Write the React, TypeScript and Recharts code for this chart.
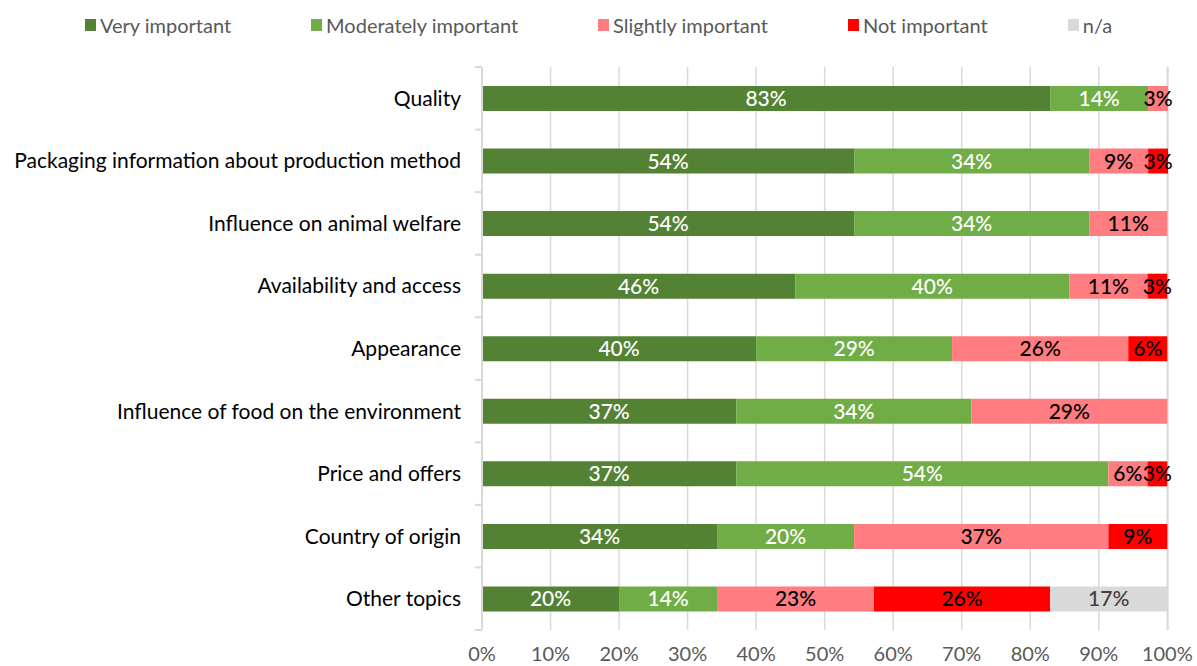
import React from 'react';
import { BarChart, Bar, XAxis, YAxis, CartesianGrid, LabelList, Legend } from 'recharts';

const categories = [
  'Quality',
  'Packaging information about production method',
  'Influence on animal welfare',
  'Availability and access',
  'Appearance',
  'Influence of food on the environment',
  'Price and offers',
  'Country of origin',
  'Other topics',
];

const veryImportant = [82.9, 54.3, 54.3, 45.7, 40.0, 37.1, 37.1, 34.3, 20.0];
const moderatelyImportant = [14.3, 34.3, 34.3, 40.0, 28.6, 34.3, 54.3, 20.0, 14.3];
const slightlyImportant = [2.9, 8.6, 11.4, 11.4, 25.7, 28.6, 5.7, 37.1, 22.9];
const notImportant = [0, 2.9, 0, 2.9, 5.7, 0, 2.9, 8.6, 25.7];
const notApplicable = [0, 0, 0, 0, 0, 0, 0, 0, 17.1];

const seriesNames = ['Very important', 'Moderately important', 'Slightly important', 'Not important', 'n/a'];
const seriesKeys = ['very', 'moderate', 'slight', 'not', 'na'];
const seriesValues = [veryImportant, moderatelyImportant, slightlyImportant, notImportant, notApplicable];
const seriesColors = ['#548235', '#70AD47', '#FF7C80', '#FF0000', '#D9D9D9'];
const labelColors = ['#FFFFFF', '#FFFFFF', '#000000', '#000000', '#404040'];

const xTicks = [0, 10, 20, 30, 40, 50, 60, 70, 80, 90, 100];

const data = categories.map((c, i) => {
  const row: Record<string, string | number> = { category: c };
  seriesKeys.forEach((k, s) => {
    row[k] = seriesValues[s][i];
  });
  return row;
});

const FONT = 'Lato, "Open Sans", sans-serif';

function CategoryTick(props: any) {
  const { x, y, payload, index } = props;
  const half = payload && typeof payload.offset === 'number' && payload.offset > 0 ? payload.offset : 31.28;
  return (
    <g>
      <text
        x={x - 21}
        y={y - 1}
        textAnchor="end"
        dominantBaseline="central"
        fontSize={21}
        fontFamily={FONT}
        fill="#000000"
      >
        {payload.value}
      </text>
      <line x1={x - 7} x2={x} y1={y - half} y2={y - half} stroke="#D9D9D9" strokeWidth={2} />
      {index === categories.length - 1 ? (
        <line x1={x - 7} x2={x} y1={y + half} y2={y + half} stroke="#D9D9D9" strokeWidth={2} />
      ) : null}
    </g>
  );
}

function renderLegend() {
  return (
    <div
      style={{
        display: 'flex',
        justifyContent: 'center',
        alignItems: 'center',
        gap: 80,
        fontFamily: FONT,
        fontSize: 20,
        color: '#595959',
      }}
    >
      {seriesNames.map((n, i) => (
        <div key={n} style={{ display: 'flex', alignItems: 'center' }}>
          <span
            style={{
              display: 'inline-block',
              width: 11,
              height: 12,
              background: seriesColors[i],
              marginRight: 4,
            }}
          />
          <span>{n}</span>
        </div>
      ))}
    </div>
  );
}

export default function App() {
  return (
    <div style={{ position: 'absolute', left: 0, top: 0, width: 1197, height: 666, background: '#fff' }}>
      <BarChart
        width={1197}
        height={666}
        data={data}
        layout="vertical"
        margin={{ top: 67, right: 29, bottom: 0, left: 0 }}
      >
        <CartesianGrid horizontal={false} vertical={true} stroke="#D9D9D9" strokeWidth={1.5} />
        <XAxis
          type="number"
          domain={[0, 100]}
          ticks={xTicks}
          tickFormatter={(v: number) => `${v}%`}
          axisLine={false}
          tickLine={false}
          tickSize={0}
          tickMargin={17}
          height={36}
          interval={0}
          tick={{ fontSize: 20, fontFamily: FONT, fill: '#595959' }}
        />
        <YAxis
          type="category"
          dataKey="category"
          width={482}
          axisLine={{ stroke: '#D9D9D9', strokeWidth: 2 }}
          tickLine={false}
          tickSize={0}
          tickMargin={0}
          interval={0}
          tick={<CategoryTick />}
        />
        <Legend
          layout="horizontal"
          verticalAlign="middle"
          align="center"
          wrapperStyle={{ top: 13, left: 0, width: 1197 }}
          content={renderLegend}
        />
        {seriesKeys.map((k, i) => (
          <Bar
            key={k}
            dataKey={k}
            name={seriesNames[i]}
            stackId="a"
            fill={seriesColors[i]}
            barSize={25}
            isAnimationActive={false}
          >
            <LabelList
              dataKey={k}
              position="center"
              formatter={(v: any) => (Number(v) > 0 ? `${Math.round(Number(v))}%` : '')}
              fill={labelColors[i]}
              fontSize={21}
              fontFamily={FONT}
              fontWeight={500}
            />
          </Bar>
        ))}
      </BarChart>
    </div>
  );
}
